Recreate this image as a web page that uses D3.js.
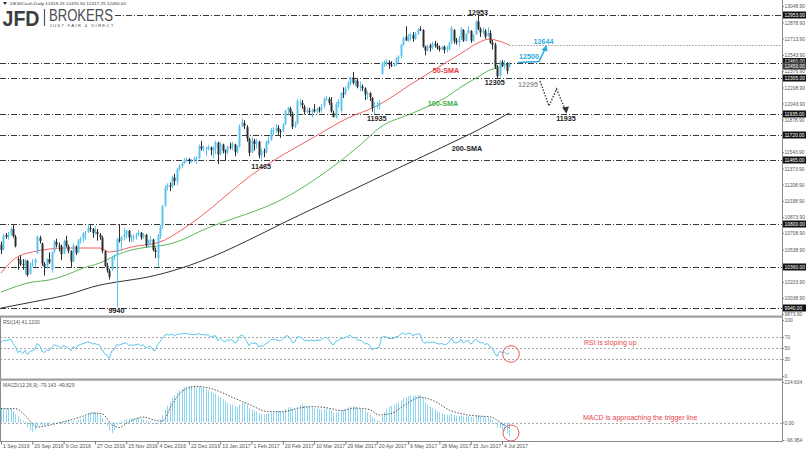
<!DOCTYPE html>
<html><head><meta charset="utf-8">
<script src="https://cdn.jsdelivr.net/npm/d3@7/dist/d3.min.js"></script>
<style>
html,body{margin:0;padding:0;background:#fff}
svg{display:block}
text{font-family:"Liberation Sans",Arial,sans-serif}
</style></head><body>
<svg id="chart" width="806" height="452"></svg>
<script>
// ---------------- DATA ----------------
const opens=[
10590,10540,10690,10670,10690,10750,10670,10440,10430,10390,
10370,10420,10290,10380,10400,10500,10660,10600,10390,10370,
10440,10330,10520,10620,10580,10570,10500,10630,10570,10520,
10420,10570,10510,10630,10650,10700,10720,10760,10750,10710,
10720,10690,10660,10520,10370,10320,10330,10460,10480,10640,
10630,10670,10690,10730,10660,10660,10670,10690,10710,10660,
10690,10580,10620,10640,10530,10450,10680,10780,10990,11180,
11200,11190,11280,11240,11370,11400,11430,11460,11470,11450,
11460,11470,11480,11600,11580,11580,11580,11590,11560,11580,
11640,11520,11620,11550,11540,11600,11600,11620,11550,11600,
11810,11840,11800,11680,11540,11660,11630,11650,11510,11550,
11540,11640,11670,11770,11770,11790,11760,11760,11830,11970,
11990,11940,11810,11840,12060,12050,12010,11960,11970,11960,
11980,11960,11990,11990,12020,12080,12090,12050,11950,11900,
12040,11970,12150,12150,12200,12250,12310,12250,12280,12220,
12220,12200,12140,12150,12100,12000,12020,12030,12350,12450,
12460,12470,12440,12440,12450,12510,12530,12650,12730,12690,
12750,12750,12710,12770,12810,12800,12630,12590,12640,12620,
12660,12640,12620,12600,12630,12600,12610,12670,12800,12690,
12670,12720,12800,12690,12770,12790,12690,12760,12890,12810,
12780,12790,12740,12770,12670,12650,12410,12330,12470,12440,
12450,12419.25];
const highs=[
10620,10700,10710,10720,10770,10790,10690,10460,10480,10440,
10440,10430,10410,10440,10450,10680,10680,10610,10410,10450,
10510,10520,10640,10650,10610,10590,10640,10680,10590,10530,
10600,10580,10650,10670,10720,10730,10800,10790,10760,10780,
10750,10710,10680,10530,10400,10340,10470,10490,10660,10800,
10680,10760,10740,10740,10690,10700,10710,10740,10720,10710,
10700,10640,10680,10650,10560,10700,10790,11000,11200,11220,
11230,11300,11320,11380,11420,11440,11480,11490,11480,11470,
11500,11500,11620,11660,11610,11600,11620,11600,11600,11660,
11650,11650,11630,11570,11610,11640,11650,11630,11610,11830,
11890,11870,11820,11690,11700,11680,11680,11660,11580,11580,
11660,11700,11790,11800,11830,11820,11780,11840,11980,12010,
12010,11960,11860,12090,12090,12080,12030,12000,12000,11990,
12040,12000,12010,12040,12110,12120,12110,12110,11970,12060,
12090,12160,12210,12220,12270,12320,12370,12290,12300,12270,
12240,12210,12170,12160,12110,12060,12060,12080,12470,12490,
12500,12490,12480,12460,12520,12540,12660,12730,12840,12760,
12770,12780,12780,12820,12840,12810,12640,12650,12660,12680,
12690,12670,12640,12640,12640,12640,12680,12840,12810,12720,
12740,12830,12810,12770,12840,12800,12760,12900,12953,12830,
12830,12810,12830,12800,12700,12670,12440,12490,12490,12490,
12470,12470.5];
const lows=[
10490,10530,10650,10640,10680,10660,10560,10330,10370,10330,
10280,10260,10280,10360,10360,10490,10600,10370,10270,10340,
10390,10300,10500,10560,10520,10430,10490,10560,10500,10360,
10410,10480,10500,10600,10610,10640,10710,10720,10660,10690,
10630,10640,10500,10360,10300,10230,10320,10430,9940,10610,
10520,10630,10650,10620,10610,10620,10640,10680,10640,10650,
10560,10560,10590,10520,10450,10360,10650,10750,10980,11150,
11140,11170,11200,11200,11350,11380,11420,11440,11420,11430,
11440,11420,11470,11560,11550,11500,11560,11510,11480,11520,
11420,11510,11530,11460,11520,11570,11560,11500,11530,11590,
11800,11780,11650,11500,11530,11560,11580,11480,11465,11490,
11530,11620,11660,11720,11740,11720,11690,11750,11820,11930,
11910,11780,11790,11830,12010,11990,11930,11940,11930,11900,
11950,11940,11950,11950,12000,12070,12030,11950,11900,11890,
12000,11950,12100,12130,12180,12230,12240,12220,12200,12170,
12170,12080,12090,12070,11960,11935,11990,11980,12340,12420,
12430,12400,12420,12420,12430,12460,12510,12640,12690,12680,
12690,12680,12700,12750,12790,12620,12540,12580,12580,12600,
12620,12600,12580,12590,12560,12570,12590,12660,12660,12650,
12630,12700,12680,12680,12760,12670,12680,12750,12800,12730,
12760,12710,12730,12660,12600,12400,12305,12320,12420,12400,
12350,12417.25];
const closes=[
10534,10683,10672,10688,10752,10675,10573,10431,10386,10378,
10431,10276,10373,10394,10436,10674,10627,10394,10361,10438,
10405,10511,10619,10585,10568,10490,10624,10577,10523,10414,
10580,10504,10631,10646,10701,10711,10761,10757,10709,10717,
10696,10665,10526,10370,10325,10259,10456,10482,10646,10630,
10667,10693,10735,10664,10663,10664,10685,10713,10662,10689,
10582,10620,10640,10534,10513,10684,10775,10986,11179,11203,
11190,11284,11244,11366,11404,11427,11464,11468,11456,11450,
11474,11481,11599,11584,11585,11584,11599,11563,11583,11646,
11521,11629,11555,11540,11599,11598,11630,11545,11595,11806,
11848,11814,11682,11535,11659,11627,11651,11510,11549,11543,
11643,11666,11774,11772,11794,11757,11757,11827,11967,11998,
11948,11804,11834,12067,12060,12027,11958,11966,11967,11978,
11963,11990,11988,12009,12083,12095,12052,11962,11904,12039,
12064,12149,12149,12203,12256,12313,12257,12282,12217,12225,
12201,12139,12154,12109,12000,12016,12027,12048,12455,12467,
12472,12443,12438,12450,12507,12527,12648,12717,12694,12749,
12757,12711,12770,12807,12805,12631,12590,12638,12619,12659,
12642,12621,12602,12628,12599,12615,12664,12822,12690,12675,
12714,12815,12690,12765,12806,12692,12753,12889,12814,12774,
12794,12733,12771,12671,12647,12416,12325,12475,12437,12453,
12381,12450];

// moving averages: [bar index, price]
const sma50=[[0,10296],[5,10430],[13,10513],[27,10554],[41,10554],[45,10513],[48,10523],[54,10564],[66,10616],[75,10740],[82,10863],[104,11306],[130,11698],[144,11894],[156,12018],[171,12255],[185,12470],[191,12560],[198,12668],[203,12709],[205,12700],[211,12647]];
const sma100=[[0,10100],[13,10203],[20,10224],[27,10275],[34,10347],[41,10399],[48,10482],[54,10533],[61,10564],[68,10585],[75,10636],[82,10719],[120,11100],[150,11636],[157,11791],[171,11946],[185,12111],[191,12214],[198,12317],[203,12389],[207,12420],[211,12455]];
const sma200=[[0,9935],[13,9997],[27,10069],[41,10172],[48,10203],[61,10255],[75,10348],[82,10409],[124,10894],[165,11379],[186,11626],[198,11770],[211,11946]];

// RSI(14), one value per bar
const rsi=[
60,64,63,64,66,58,52,42,45,40, 46,38,44,45,47,58,55,44,42,47,
45,51,56,54,53,49,55,52,50,45, 53,49,55,56,58,59,61,60,57,58,
56,55,47,40,37,31,45,47,56,55, 57,58,59,55,55,55,56,57,54,56,
50,52,53,47,45,56,61,68,73,74, 73,75,72,74,75,75,76,76,75,74,
74,74,76,74,74,73,74,70,71,72, 63,67,63,61,64,64,65,59,61,71,
73,70,62,54,60,58,59,52,54,54, 58,60,65,65,66,63,63,66,71,72,
68,59,61,70,70,68,63,63,63,64, 63,64,64,65,68,69,66,59,55,62,
63,67,67,69,71,73,68,69,64,64, 62,57,58,55,47,49,50,51,69,70,
70,67,67,67,70,71,75,77,74,76, 76,72,74,75,75,62,58,61,59,61,
60,58,57,58,56,57,60,68,60,59, 61,66,59,62,64,57,60,66,62,59,
60,56,58,52,50,40,35,44,42,43, 39,41];

// MACD(12,26,9) main line as histogram, one value per bar
const macd=[
78,78,77,77,76,62,45,35,18,10, -5,-28,-45,-52,-40,-20,-12,-15,-18,-14,
-12,-8,-2,3,6,4,8,10,10,6, 10,10,15,18,28,38,48,55,58,55,
50,42,25,12,-20,-45,-59,-45,-12,-8, 8,14,20,22,22,22,23,25,21,18,
12,8,6,-3,-8,-4,15,40,70,95, 115,135,150,165,178,188,196,201,203,202,
200,196,198,195,191,185,180,171,163,158, 145,140,128,118,110,102,98,90,85,98,
110,112,100,80,74,65,60,50,46,45, 48,50,55,60,64,64,62,64,74,84,
86,76,72,86,95,98,94,90,86,83, 78,76,73,72,76,78,76,66,54,56,
57,64,68,74,82,90,89,88,82,78, 72,62,55,46,30,20,12,7,35,58,
76,87,94,99,106,110,122,135,140,146, 150,148,150,152,152,138,112,100,88,80,
72,64,56,50,46,42,42,50,44,38, 36,40,34,34,36,30,30,38,38,35,
34,30,30,22,14,-8,-30,-32,-40,-46, -60,-79];
// signal line: [bar index, value]
const signal=[[0,77],[6,77],[10,40],[15,-25],[20,-15],[27,8],[33,30],[38,52],[42,48],[46,-10],[49,-28],[53,3],[59,30],[64,12],[67,8],[71,100],[75,170],[81,200],[88,185],[96,140],[104,95],[110,62],[117,60],[123,78],[129,88],[136,80],[141,66],[147,80],[153,72],[157,42],[162,50],[168,100],[174,140],[180,118],[186,70],[192,46],[198,36],[203,32],[206,12],[209,-15],[211,-30]];

const priceTicks=[13048.90,12878.90,12713.90,12543.90,12376.90,12208.90,12043.90,11878.90,11543.90,11373.90,11208.90,11038.90,10873.90,10708.90,10538.90,10203.90,10038.90,9873.90];
const levels=[12953,12460,12305,11935,11720,11465,10800,10360,9940];
const lastPrice=12450;
const dateIdx=[0,13,26,39,52,65,78,91,104,117,130,143,156,169,182,195,208];
const dateLabels=["1 Sep 2016","20 Sep 2016","9 Oct 2016","27 Oct 2016","15 Nov 2016","4 Dec 2016","22 Dec 2016","13 Jan 2017","1 Feb 2017","20 Feb 2017","10 Mar 2017","29 Mar 2017","20 Apr 2017","9 May 2017","28 May 2017","15 Jun 2017","4 Jul 2017"];
const rsiTicks=[100,70,50,30,0];
const macdTicks=[224.604,0,-96.954];

// ---------------- DRAW ----------------
const svg=d3.select("#chart");
const AX=782;
const BULL="#5cc4ec", BEAR="#2e2e2e";
const FS=4.9;
const x=d3.scaleLinear().domain([0,208]).range([1,502]);
const y=d3.scaleLinear().domain([9873.9,13048.9]).range([314,6]);
const yR=d3.scaleLinear().domain([0,100]).range([376,320]);
const yD=d3.scaleLinear().domain([-96.954,224.604]).range([440,382]);

const defs=svg.append("defs");
defs.append("clipPath").attr("id","cMain").append("rect").attr("x",0).attr("y",0).attr("width",AX).attr("height",316);
defs.append("clipPath").attr("id","cRsi").append("rect").attr("x",0).attr("y",318).attr("width",AX).attr("height",61);
defs.append("clipPath").attr("id","cMacd").append("rect").attr("x",0).attr("y",381).attr("width",AX).attr("height",60);

// horizontal level lines (dash-dot)
const gl=svg.append("g");
levels.forEach(v=>{
  gl.append("line").attr("x1",v===12953?115:0).attr("x2",AX)
    .attr("y1",Math.round(y(v))+0.5).attr("y2",Math.round(y(v))+0.5)
    .attr("stroke","#3a3a3a").attr("stroke-width",1).attr("stroke-dasharray","6,2,1,2");
});

// moving averages
const ln=d3.line().x(d=>x(d[0])).y(d=>y(d[1])).curve(d3.curveMonotoneX);
const gs=svg.append("g").attr("clip-path","url(#cMain)");
gs.append("path").attr("d",ln(sma200)).attr("fill","none").attr("stroke","#333").attr("stroke-width",1);
gs.append("path").attr("d",ln(sma100)).attr("fill","none").attr("stroke","#5cb85c").attr("stroke-width",1);
gs.append("path").attr("d",ln(sma50)).attr("fill","none").attr("stroke","#f06262").attr("stroke-width",1);

// candles
const gc=svg.append("g").attr("clip-path","url(#cMain)");
closes.forEach((c,i)=>{
  const o=opens[i], hi=Math.max(highs[i],o,c), lo=Math.min(lows[i],o,c);
  const col=c>=o?BULL:BEAR;
  const cx=Math.round(x(i))+0.5;
  gc.append("line").attr("x1",cx).attr("x2",cx).attr("y1",y(hi)).attr("y2",y(lo)).attr("stroke",col).attr("stroke-width",1);
  const t=y(Math.max(o,c)), b=y(Math.min(o,c));
  gc.append("rect").attr("x",cx-1).attr("width",2).attr("y",t).attr("height",Math.max(1,b-t)).attr("fill",col);
});

// 12644 dotted projection line from the 50-SMA end
svg.append("line").attr("x1",x(211)).attr("x2",AX).attr("y1",Math.round(y(12644))+0.5).attr("y2",Math.round(y(12644))+0.5)
  .attr("stroke","#999").attr("stroke-dasharray","1.5,1.5");

// annotations (main)
function txt(s,xx,yy,col,opt){
  opt=opt||{};
  return svg.append("text").attr("x",xx).attr("y",yy).text(s).attr("fill",col)
    .attr("font-size",opt.size||7.2).attr("font-weight",opt.w||"bold").attr("text-anchor",opt.a||"middle");
}
txt("12953",x(198),y(12953)-0.5,"#222");
txt("12305",x(205),y(12305)+7,"#222");
txt("11935",x(156),y(11935)+7,"#222");
txt("11465",x(108),y(11465)+9.5,"#222");
txt("9940",x(48),y(9940)+5.5,"#222");
txt("50-SMA",446,73,"#e8383f");
txt("100-SMA",443,106,"#3fae49");
txt("200-SMA",467,151,"#222");
txt("12500",529,59,"#29aae1");
txt("12644",543.5,44,"#29aae1");
txt("12295",528,87,"#9a9a9a");
txt("11935",566,121,"#222");

// blue arrow to 12644
svg.append("path").attr("d","M518,62.5 L539,61.5 L544.5,50").attr("fill","none").attr("stroke","#29aae1").attr("stroke-width",1.6);
svg.append("path").attr("d","M546.5,45 L541.5,50 L547.5,51.5 Z").attr("fill","#29aae1");
// black dotted path to 11935
svg.append("path").attr("d","M540,81 L549,106 L556.5,89 L565,109").attr("fill","none").attr("stroke","#333").attr("stroke-width",1.3).attr("stroke-dasharray","1.5,1.5");
svg.append("path").attr("d","M566.5,113.5 L562,107.5 L569,106.5 Z").attr("fill","#333");

// header & logo
svg.append("path").attr("d","M3,2 L7,2 L5,5 Z").attr("fill","#333");
svg.append("text").attr("x",9).attr("y",5).text(".DE30Cash,Daily  12419.25 12470.50 12417.25 12450.00")
  .attr("fill","#333").attr("font-size",4.4).attr("textLength",117).attr("lengthAdjust","spacingAndGlyphs");
svg.append("text").attr("x",2.5).attr("y",26).text("JFD").attr("fill","#3a3d40").attr("font-size",22).attr("font-weight","bold")
  .attr("textLength",37).attr("lengthAdjust","spacingAndGlyphs");
svg.append("line").attr("x1",44.5).attr("x2",44.5).attr("y1",9).attr("y2",26).attr("stroke","#555").attr("stroke-width",1.2);
svg.append("text").attr("x",49).attr("y",20.5).text("BROKERS").attr("fill","#4a4d50").attr("font-size",16)
  .attr("font-family","'Liberation Serif','Times New Roman',serif").attr("textLength",64).attr("lengthAdjust","spacingAndGlyphs");
svg.append("text").attr("x",49.5).attr("y",27).text("JUST FAIR & DIRECT").attr("fill","#555").attr("font-size",4.4)
  .attr("font-family","'Liberation Serif','Times New Roman',serif").attr("textLength",64).attr("lengthAdjust","spacing");

// ---------- RSI panel ----------
rsiTicks.filter(v=>v>0&&v<100).forEach(v=>{
  svg.append("line").attr("x1",0).attr("x2",AX).attr("y1",Math.round(yR(v))+0.5).attr("y2",Math.round(yR(v))+0.5)
    .attr("stroke","#a8a8a8").attr("stroke-dasharray","2,2");
});
const lr=d3.line().x((d,i)=>x(i)).y(d=>yR(d));
svg.append("path").attr("clip-path","url(#cRsi)").attr("d",lr(rsi)).attr("fill","none").attr("stroke",BULL).attr("stroke-width",1);
txt("RSI(14) 41.1200",3,323.5,"#555",{size:5,w:"normal",a:"start"});
txt("RSI is sloping up",584,345,"#e8454b",{size:7,w:"normal",a:"start"});
svg.append("circle").attr("cx",511).attr("cy",354).attr("r",8.3).attr("fill","none").attr("stroke","#ee5a5f").attr("stroke-width",1);

// ---------- MACD panel ----------
svg.append("line").attr("x1",0).attr("x2",AX).attr("y1",Math.round(yD(0))+0.5).attr("y2",Math.round(yD(0))+0.5)
  .attr("stroke","#a8a8a8").attr("stroke-dasharray","2,2");
const gm=svg.append("g").attr("clip-path","url(#cMacd)");
macd.forEach((v,i)=>{
  const a=yD(Math.max(0,v)), b=yD(Math.min(0,v));
  gm.append("rect").attr("x",Math.round(x(i))).attr("width",1).attr("y",a).attr("height",Math.max(0.5,b-a)).attr("fill","#8dd6f2");
});
const lsig=d3.line().x(d=>x(d[0])).y(d=>yD(d[1])).curve(d3.curveMonotoneX);
gm.append("path").attr("d",lsig(signal)).attr("fill","none").attr("stroke","#555").attr("stroke-width",1).attr("stroke-dasharray","1.5,1.5");
txt("MACD(12,26,9) -79.143 -49.829",3,387,"#555",{size:5,w:"normal",a:"start"});
txt("MACD is approaching the trigger line",583,420,"#e8454b",{size:7,w:"normal",a:"start"});
svg.append("circle").attr("cx",511).attr("cy",433).attr("r",8).attr("fill","none").attr("stroke","#ee5a5f").attr("stroke-width",1);

// ---------- frames / separators ----------
svg.append("line").attr("x1",AX+0.5).attr("x2",AX+0.5).attr("y1",0).attr("y2",441).attr("stroke","#8a8a8a");
svg.append("line").attr("x1",0.5).attr("x2",0.5).attr("y1",316).attr("y2",441).attr("stroke","#8a8a8a");
[316.5,379.5].forEach(v=>svg.append("rect").attr("x",0).attr("y",v-1).attr("width",AX+1).attr("height",2.2).attr("fill","#a0a0a0"));
svg.append("line").attr("x1",0).attr("x2",AX+1).attr("y1",441.5).attr("y2",441.5).attr("stroke","#8a8a8a");

// ---------- right axes ----------
function styleAxis(g){
  g.select(".domain").remove();
  g.selectAll("line").attr("stroke","#888");
  g.selectAll("text").attr("font-size",FS).attr("fill","#555").attr("x",2.5).attr("font-family","'Liberation Sans',Arial,sans-serif");
}
svg.append("g").attr("transform",`translate(${AX},0)`)
  .call(d3.axisRight(y).tickValues(priceTicks).tickSize(2).tickFormat(d3.format(".2f"))).call(styleAxis);
svg.append("g").attr("transform",`translate(${AX},0)`)
  .call(d3.axisRight(yR).tickValues(rsiTicks).tickSize(2).tickFormat(d3.format("d"))).call(styleAxis);
svg.append("g").attr("transform",`translate(${AX},0)`)
  .call(d3.axisRight(yD).tickValues(macdTicks).tickSize(2).tickFormat(d=>d===0?"0.00":d3.format(".3f")(d))).call(styleAxis);

// level boxes
function box(v,col,dy){
  const yy=Math.round(y(v))+(dy||0);
  svg.append("rect").attr("x",AX+1).attr("y",yy-3.5).attr("width",23).attr("height",7).attr("fill",col);
  svg.append("text").attr("x",AX+2.5).attr("y",yy+1.8).text(d3.format(".2f")(v)).attr("fill","#fff").attr("font-size",FS);
}
levels.forEach(v=>box(v,"#111",v===12460?-1.5:0));
box(lastPrice,"#3c3c3c",2);

// ---------- bottom date axis ----------
const gb=svg.append("g").attr("transform","translate(0,441)")
  .call(d3.axisBottom(x).tickValues(dateIdx).tickSize(3.5).tickFormat((d,i)=>dateLabels[i]));
gb.select(".domain").remove();
gb.selectAll("line").attr("stroke","#777");
gb.selectAll("text").attr("text-anchor","start").attr("x",1.5).attr("y",3).attr("font-size",5.2).attr("fill","#555")
  .attr("font-family","'Liberation Sans',Arial,sans-serif");
</script></body></html>
